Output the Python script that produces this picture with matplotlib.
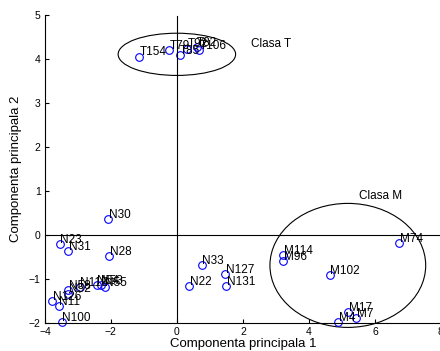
import matplotlib
matplotlib.use("Agg")
import matplotlib.pyplot as plt
from matplotlib.patches import Ellipse

plt.rcParams['font.family'] = ['Liberation Sans', 'DejaVu Sans']

# scores on the first two principal components
labels = ['T154', 'T79', 'T85', 'T92', 'T82', 'T106',
          'N30', 'N23', 'N31', 'N28', 'N100', 'N11', 'N126', 'N52', 'N58',
          'N113', 'N54', 'N53', 'N55',
          'N33', 'N22', 'N127', 'N131',
          'M114', 'M96', 'M102', 'M74', 'M17', 'M7', 'M4']
pc1 = [-1.15, -0.23, 0.09, 0.32, 0.60, 0.68,
       -2.08, -3.55, -3.29, -2.05, -3.49, -3.57, -3.77, -3.29, -3.29,
       -2.94, -2.43, -2.30, -2.18,
       0.75, 0.37, 1.47, 1.50,
       3.22, 3.22, 4.63, 6.74, 5.19, 5.44, 4.89]
pc2 = [4.05, 4.20, 4.08, 4.23, 4.27, 4.19,
       0.35, -0.22, -0.38, -0.48, -1.98, -1.63, -1.52, -1.34, -1.26,
       -1.20, -1.15, -1.14, -1.20,
       -0.70, -1.17, -0.90, -1.17,
       -0.46, -0.61, -0.92, -0.20, -1.76, -1.89, -1.98]

# class ellipses: center, width, height
class_names = ['Clasa T', 'Clasa M']
ell_center = [(0.0, 4.1), (5.18, -0.7)]
ell_size = [(3.56, 0.96), (4.72, 2.82)]
name_pos = [(2.26, 4.34), (5.52, 0.88)]

fig = plt.figure(figsize=(4.4, 3.51), dpi=100)
ax = fig.add_axes([0.102, 0.081, 0.9, 0.877])

ax.plot(pc1, pc2, 'o', mfc='none', mec='blue', ms=5.5, mew=0.8, clip_on=False)
for lab, x, y in zip(labels, pc1, pc2):
    ax.annotate(lab, (x, y), xytext=(0.3, 3), textcoords='offset points',
                fontsize=8.5, ha='left', va='center')

ax.plot([-4, 8], [0, 0], color='black', lw=0.8)
ax.plot([0, 0], [-2, 4.97], color='black', lw=0.8)

for c, s, name, pos in zip(ell_center, ell_size, class_names, name_pos):
    ax.add_patch(Ellipse(c, s[0], s[1], fill=False, ec='black', lw=0.8, clip_on=False))
    ax.text(pos[0], pos[1], name, fontsize=8.5, ha='left', va='center')

ax.set_xlim(-4, 8)
ax.set_ylim(-2, 5)
ax.set_xticks([-4, -2, 0, 2, 4, 6, 8])
ax.set_yticks([-2, -1, 0, 1, 2, 3, 4, 5])
ax.spines['top'].set_visible(False)
ax.spines['right'].set_visible(False)
ax.spines['left'].set_linewidth(0.8)
ax.spines['bottom'].set_linewidth(0.8)
ax.tick_params(direction='in', length=3, width=0.8, labelsize=7.5, pad=3)
ax.set_xlabel('Componenta principala 1', fontsize=9.5, labelpad=1)
ax.set_ylabel('Componenta principala 2', fontsize=9.5, labelpad=5)

fig.savefig('out.png', dpi=100)
